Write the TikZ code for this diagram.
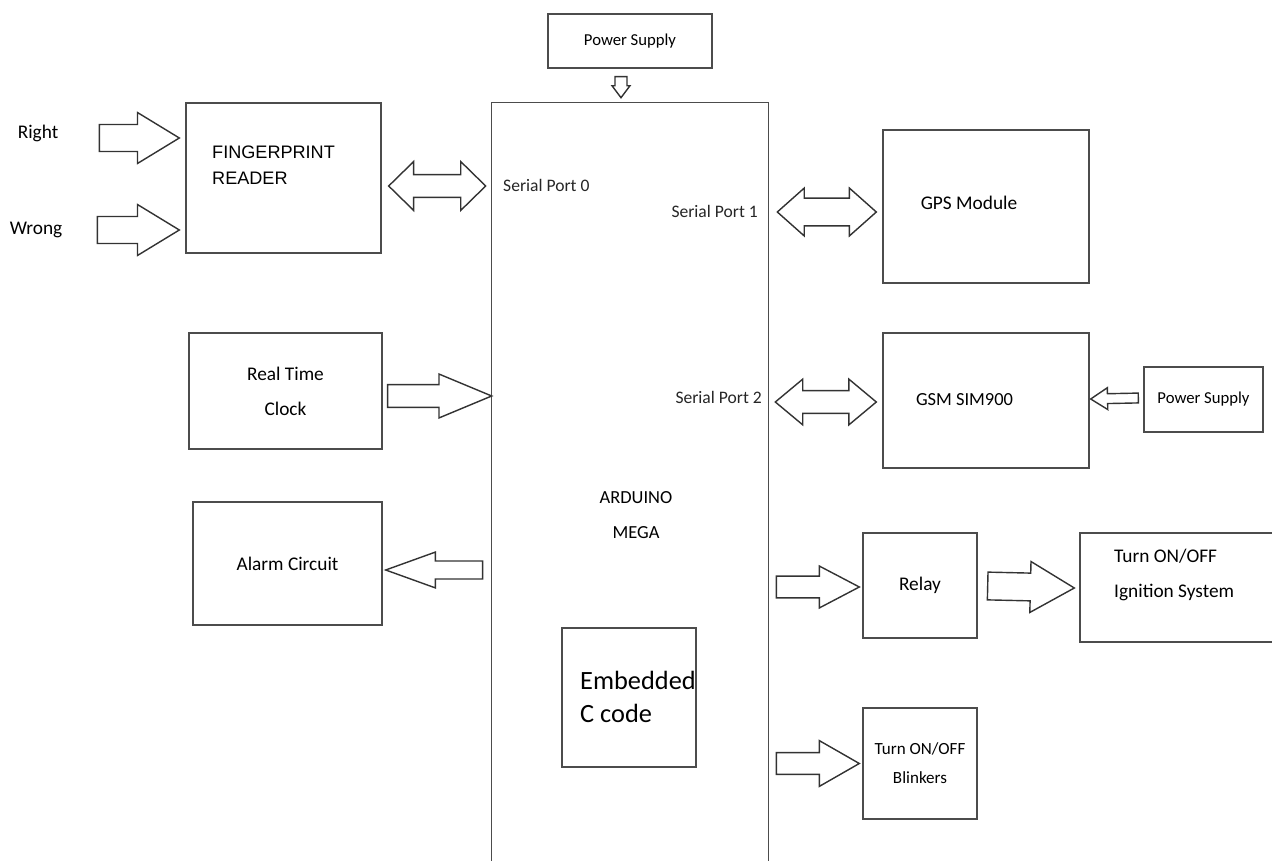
\documentclass[tikz,border=0pt]{standalone}
\usepackage{fontspec}
\setmainfont{Carlito}
\newfontfamily\arialfont{Liberation Sans}
\usetikzlibrary{calc}

\newcommand{\fatarrow}[5]{%
  \coordinate (fa1) at (#1);
  \coordinate (fa2) at (#2);
  \draw[fatline] ($(fa1)!#3!90:(fa2)$) -- ($(fa2)!#5!(fa1)!#3!270:(fa1)$)
    -- ($(fa2)!#5!(fa1)!#4!270:(fa1)$) -- (fa2)
    -- ($(fa2)!#5!(fa1)!#4!90:(fa1)$) -- ($(fa2)!#5!(fa1)!#3!90:(fa1)$)
    -- ($(fa1)!#3!270:(fa2)$) -- cycle;}
\newcommand{\fatdarrow}[5]{%
  \coordinate (fa1) at (#1);
  \coordinate (fa2) at (#2);
  \draw[fatline] (fa1) -- ($(fa1)!#5!(fa2)!#4!90:(fa2)$) -- ($(fa1)!#5!(fa2)!#3!90:(fa2)$)
    -- ($(fa2)!#5!(fa1)!#3!270:(fa1)$) -- ($(fa2)!#5!(fa1)!#4!270:(fa1)$) -- (fa2)
    -- ($(fa2)!#5!(fa1)!#4!90:(fa1)$) -- ($(fa2)!#5!(fa1)!#3!90:(fa1)$)
    -- ($(fa1)!#5!(fa2)!#3!270:(fa2)$) -- ($(fa1)!#5!(fa2)!#4!270:(fa2)$) -- cycle;}

\begin{document}
\begin{tikzpicture}[x=0.02cm,y=-0.02cm,
  box/.style 2 args={draw=black!70,line width=0.8pt,minimum width=#1,minimum height=#2,align=center},
  fatline/.style={draw=black!80,line width=0.8pt,fill=white,line join=miter},
  lbl/.style={font=\fontsize{10}{14}\selectfont,text=black!85}]
\useasboundingbox (0,0) rectangle (1272,861);
% controller
\node[box={3.28cm}{1.08cm},font=\fontsize{9.5}{12}\selectfont] (ps) at (630,41) {Power Supply};
\node[minimum width=5.52cm,minimum height=15.34cm] (ard) at (630,486.5) {};
\draw[draw=black!70,line width=0.8pt] (ard.south west) -- (ard.north west) -- (ard.north east) -- (ard.south east);
\node[font=\fontsize{10.5}{20}\selectfont,align=center] (ardtxt) at (636,515) {ARDUINO\\MEGA};
\node[box={2.68cm}{2.78cm}] (emb) at (629,697.5) {};
\node[font=\fontsize{15}{19}\selectfont,align=left,anchor=west] (embtxt) at (574,697) {Embedded\\C code};
\node[lbl,anchor=west] (sp0) at (497,185) {Serial Port 0};
\node[lbl,anchor=east] (sp1) at (764,211) {Serial Port 1};
\node[lbl,anchor=east] (sp2) at (768,397) {Serial Port 2};
% left side
\node[font=\fontsize{11}{14}\selectfont] (right) at (38,133) {Right};
\node[font=\fontsize{11}{14}\selectfont] (wrong) at (36,230) {Wrong};
\node[box={3.9cm}{3cm}] (fp) at (283.5,178) {};
\node[font=\arialfont\fontsize{10.3}{14.7}\selectfont,align=left,anchor=west] (fptxt) at (206,165) {FINGERPRINT\\READER};
\node[box={3.86cm}{2.32cm},font=\fontsize{11}{20}\selectfont] (rtc) at (285.5,391) {Real Time\\Clock};
\node[box={3.78cm}{2.46cm},font=\fontsize{11}{14}\selectfont] (alarm) at (287.5,563.5) {Alarm Circuit};
% right side
\node[box={4.12cm}{3.06cm}] (gps) at (986,206.5) {};
\node[font=\fontsize{11}{14}\selectfont] (gpstxt) at (969,203) {GPS Module};
\node[box={4.12cm}{2.7cm}] (gsm) at (986,400.5) {};
\node[font=\fontsize{10.5}{14}\selectfont] (gsmtxt) at (964.5,400) {GSM SIM900};
\node[box={2.38cm}{1.3cm},font=\fontsize{9.5}{12}\selectfont] (psr) at (1203.5,399.5) {Power Supply};
\node[box={2.28cm}{2.1cm},font=\fontsize{11}{14}\selectfont] (relay) at (920,585.5) {Relay};
\node[box={4.2cm}{2.18cm}] (ign) at (1185,587.5) {};
\node[font=\fontsize{11}{20.4}\selectfont,align=left,anchor=west] (igntxt) at (1108,575) {Turn ON/OFF\\Ignition System};
\node[box={2.28cm}{2.22cm},font=\fontsize{9.7}{16.4}\selectfont] (blink) at (920,763.5) {Turn ON/OFF\\Blinkers};
% block arrows
\fatarrow{$(ps.south)+(-9,8)$}{$(ard.north)+(-9,-5)$}{3.4pt}{5.1pt}{6.8pt}
\fatarrow{$(fp.west|-right)+(-86,5)$}{$(fp.west|-right)+(-6,5)$}{7.7pt}{14.5pt}{23.8pt}
\fatarrow{$(fp.west|-wrong)+(-88,0)$}{$(fp.west|-wrong)+(-6,0)$}{7.7pt}{14.5pt}{23.8pt}
\fatdarrow{$(fp.east|-sp0)+(7,1)$}{$(ard.west|-sp0)+(-6,1)$}{6.5pt}{13.9pt}{14.2pt}
\fatarrow{$(rtc.east)+(5,5)$}{$(ard.west|-rtc)+(0,5)$}{6.5pt}{12.5pt}{30pt}
\fatarrow{$(ard.west|-alarm)+(-9,6.5)$}{$(alarm.east)+(3,6.5)$}{5.1pt}{10.2pt}{28.3pt}
\fatdarrow{$(ard.east|-sp1)+(9,1)$}{$(gps.west|-sp1)+(-6,1)$}{7.9pt}{13.6pt}{15.3pt}
\fatdarrow{$(ard.east|-gsm)+(7,1.5)$}{$(gsm.west)+(-6,1.5)$}{6.5pt}{13pt}{15.6pt}
\fatarrow{$(psr.west)+(-5,-1.5)$}{$(gsm.east)+(1,-1.5)$}{2.8pt}{6.2pt}{9.6pt}
\fatarrow{$(ard.east|-relay)+(8,1.5)$}{$(relay.west)+(-3,1.5)$}{6.2pt}{11.9pt}{22.7pt}
\fatarrow{$(relay.east)+(10,0.5)$}{$(ign.west)+(-5,0.5)$}{7.9pt}{14.5pt}{25pt}
\fatarrow{$(ard.east|-blink)+(8,0)$}{$(blink.west)+(-3,0)$}{6.2pt}{13pt}{22.7pt}
\end{tikzpicture}
\end{document}
